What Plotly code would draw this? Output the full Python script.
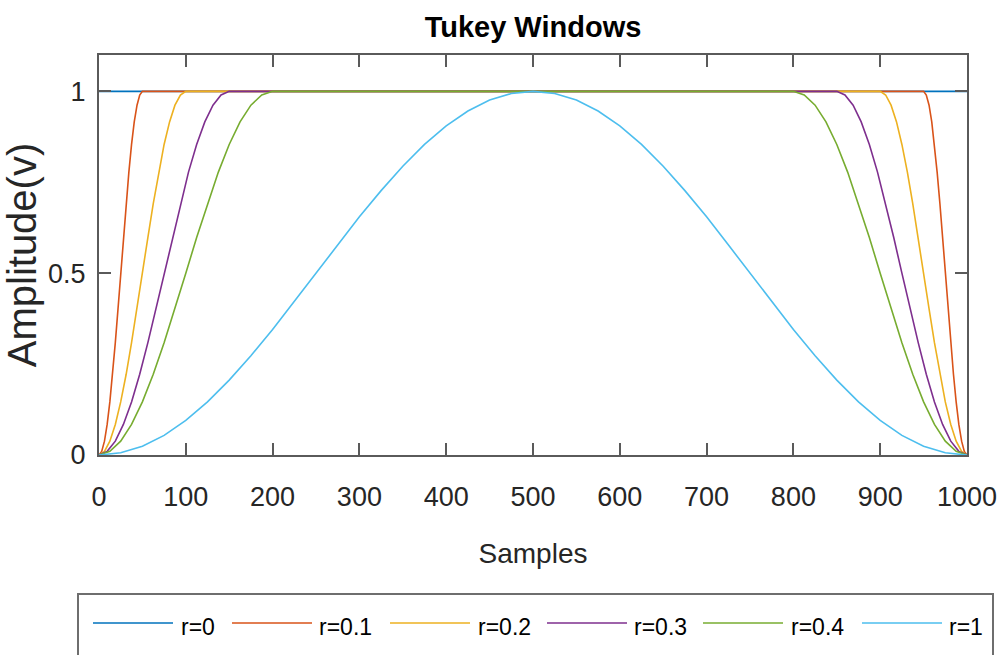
import plotly.graph_objects as go

# ---------------- data ----------------
series_names = ["r=0", "r=0.1", "r=0.2", "r=0.3", "r=0.4", "r=1"]
series_colors = ["#0072BD", "#D95319", "#EDB120", "#7E2F8E", "#77AC30", "#4DBEEE"]

x_r0 = [0, 1000]
y_r0 = [1, 1]

# taper shapes (rising edge, flat top, falling edge)
y_taper = [0, 0.010, 0.038, 0.084, 0.146, 0.222, 0.309, 0.402, 0.500, 0.598, 0.691, 0.778,
           0.854, 0.916, 0.962, 0.990, 1,
           1, 0.990, 0.962, 0.916, 0.854, 0.778, 0.691, 0.598, 0.500, 0.402, 0.309, 0.222,
           0.146, 0.084, 0.038, 0.010, 0]

x_r01 = [0, 3.1, 6.3, 9.4, 12.5, 15.6, 18.8, 21.9, 25, 28.1, 31.3, 34.4, 37.5, 40.6, 43.8, 46.9, 50,
         950, 953.1, 956.3, 959.4, 962.5, 965.6, 968.8, 971.9, 975, 978.1, 981.3, 984.4, 987.5,
         990.6, 993.8, 996.9, 1000]
y_r01 = list(y_taper)

x_r02 = [0, 6.3, 12.5, 18.8, 25, 31.3, 37.5, 43.8, 50, 56.3, 62.5, 68.8, 75, 81.3, 87.5, 93.8, 100,
         900, 906.3, 912.5, 918.8, 925, 931.3, 937.5, 943.8, 950, 956.3, 962.5, 968.8, 975,
         981.3, 987.5, 993.8, 1000]
y_r02 = list(y_taper)

x_r03 = [0, 9.4, 18.8, 28.1, 37.5, 46.9, 56.3, 65.6, 75, 84.4, 93.8, 103.1, 112.5, 121.9, 131.3,
         140.6, 150,
         850, 859.4, 868.8, 878.1, 887.5, 896.9, 906.3, 915.6, 925, 934.4, 943.8, 953.1, 962.5,
         971.9, 981.3, 990.6, 1000]
y_r03 = list(y_taper)

x_r04 = [0, 12.5, 25, 37.5, 50, 62.5, 75, 87.5, 100, 112.5, 125, 137.5, 150, 162.5, 175, 187.5, 200,
         800, 812.5, 825, 837.5, 850, 862.5, 875, 887.5, 900, 912.5, 925, 937.5, 950, 962.5,
         975, 987.5, 1000]
y_r04 = list(y_taper)

x_r1 = [0, 25, 50, 75, 100, 125, 150, 175, 200, 225, 250, 275, 300, 325, 350, 375, 400, 425,
        450, 475, 500, 525, 550, 575, 600, 625, 650, 675, 700, 725, 750, 775, 800, 825, 850,
        875, 900, 925, 950, 975, 1000]
y_r1 = [0, 0.006, 0.024, 0.054, 0.095, 0.146, 0.206, 0.273, 0.345, 0.422, 0.500, 0.578, 0.655,
        0.727, 0.794, 0.854, 0.905, 0.946, 0.976, 0.994, 1.000, 0.994, 0.976, 0.946, 0.905,
        0.854, 0.794, 0.727, 0.655, 0.578, 0.500, 0.422, 0.345, 0.273, 0.206, 0.146, 0.095,
        0.054, 0.024, 0.006, 0]

x_ticks = [0, 100, 200, 300, 400, 500, 600, 700, 800, 900, 1000]
y_ticks = [0, 0.5, 1]
y_tick_labels = ["0", "0.5", "1"]

all_x = [x_r0, x_r01, x_r02, x_r03, x_r04, x_r1]
all_y = [y_r0, y_r01, y_r02, y_r03, y_r04, y_r1]

# ---------------- layout constants ----------------
W, H = 1000, 655
ML, MR, MT, MB = 99, 33, 55, 200
PW, PH = W - ML - MR, H - MT - MB

FONT = "Liberation Sans, Arial, sans-serif"
AX = "#5a5a5a"
TXT = "#262626"


def px(xpix):
    return (xpix - ML) / PW


def py(ypix):
    return (MT + PH - ypix) / PH


fig = go.Figure()
for name, col, xs, ys in zip(series_names, series_colors, all_x, all_y):
    fig.add_trace(go.Scatter(
        x=xs, y=ys, mode="lines", name=name,
        line=dict(color=col, width=1.6),
        showlegend=False,
    ))

fig.update_layout(
    width=W, height=H,
    margin=dict(l=ML, r=MR, t=MT, b=MB, autoexpand=False),
    paper_bgcolor="white", plot_bgcolor="white",
    title=dict(text="<b>Tukey Windows</b>", x=0.5, xref="paper", xanchor="center",
               y=1 - 27 / H, yref="container", yanchor="middle",
               font=dict(family=FONT, size=29, color="black")),
    xaxis=dict(range=[0, 1000], tickvals=x_ticks, ticktext=[str(v) for v in x_ticks],
               ticks="inside", ticklen=12, tickwidth=2, tickcolor=AX,
               showline=True, linecolor=AX, linewidth=2, mirror="allticks",
               showgrid=False, zeroline=False, automargin=False,
               tickfont=dict(family=FONT, size=27, color=TXT),
               ticklabelstandoff=17,
               title=dict(text="Samples", font=dict(family=FONT, size=28, color=TXT), standoff=32)),
    yaxis=dict(range=[0, 1.1], tickvals=y_ticks, ticktext=y_tick_labels,
               ticks="inside", ticklen=12, tickwidth=2, tickcolor=AX,
               showline=True, linecolor=AX, linewidth=2, mirror="allticks",
               showgrid=False, zeroline=False, automargin=False,
               tickfont=dict(family=FONT, size=27, color=TXT),
               ticklabelstandoff=6,
               title=dict(text="Amplitude(v)", font=dict(family=FONT, size=40, color=TXT), standoff=6)),
)

# ---------------- legend box (drawn as shapes + text) ----------------
shapes = [dict(type="rect", xref="paper", yref="paper",
               x0=px(78), x1=px(993), y0=py(594), y1=py(670),
               line=dict(color="#6e6e6e", width=2), fillcolor="white", layer="above")]
annotations = []
leg_line_x = [(93, 173), (232, 312), (390, 470), (547, 627), (703, 783), (862, 942)]
leg_text_x = [179, 317, 476, 632, 789, 947]
for name, col, (a, b), tx in zip(series_names, series_colors, leg_line_x, leg_text_x):
    shapes.append(dict(type="line", xref="paper", yref="paper",
                       x0=px(a), x1=px(b), y0=py(623), y1=py(623),
                       line=dict(color=col, width=1.6), layer="above"))
    annotations.append(dict(text=name, xref="paper", yref="paper",
                            x=px(tx), y=py(627), xanchor="left", yanchor="middle",
                            showarrow=False,
                            font=dict(family=FONT, size=23, color="black")))
fig.update_layout(shapes=shapes, annotations=annotations)

fig.write_html("out.html")
